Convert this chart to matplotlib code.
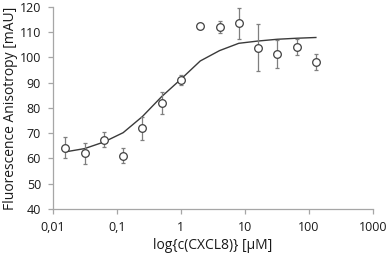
import matplotlib.pyplot as plt
from matplotlib.ticker import FixedLocator, NullLocator

conc = [0.015625, 0.03125, 0.0625, 0.125, 0.25, 0.5, 1, 2, 4, 8, 16, 32, 64, 128]
anisotropy = [64.3, 62.0, 67.5, 61.0, 72.0, 82.0, 91.0, 112.6, 112.0, 113.5, 103.9, 101.3, 104.0, 98.3]
errors = [4.0, 4.2, 2.8, 3.0, 4.5, 4.5, 2.0, 0.0, 2.5, 6.0, 9.3, 5.6, 3.2, 3.2]
fit = [62.6, 63.9, 66.5, 70.2, 76.6, 84.5, 91.4, 98.6, 102.7, 105.6, 106.5, 107.2, 107.6, 107.9]

x_ticks = [0.01, 0.1, 1, 10, 100, 1000]
x_labels = ["0,01", "0,1", "1", "10", "100", "1000"]
y_ticks = list(range(40, 121, 10))

plt.rcParams["font.family"] = ["Open Sans", "DejaVu Sans"]
grey = "#a6a6a6"
text_col = "#1a1a1a"

fig = plt.figure(figsize=(3.89, 2.57), dpi=100)
ax = fig.add_axes([0.136, 0.187, 0.823, 0.786])

ax.plot(conc, fit, color="#3a3a3a", linewidth=1.0, zorder=2)
ax.errorbar(conc, anisotropy, yerr=errors, fmt="none", ecolor="#7f7f7f",
            elinewidth=0.9, capsize=1.5, capthick=0.9, zorder=3)
ax.plot(conc, anisotropy, "o", markersize=5.5, markerfacecolor="white",
        markeredgecolor="#404040", markeredgewidth=0.9, linestyle="none", zorder=4)

ax.set_xscale("log")
ax.set_xlim(0.01, 1000)
ax.set_ylim(40, 120)
ax.xaxis.set_major_locator(FixedLocator(x_ticks))
ax.xaxis.set_minor_locator(NullLocator())
ax.set_xticks(x_ticks)
ax.set_xticklabels(x_labels)
ax.set_yticks(y_ticks)

for side in ("top", "right"):
    ax.spines[side].set_visible(False)
for side in ("left", "bottom"):
    ax.spines[side].set_color(grey)
    ax.spines[side].set_linewidth(0.9)
ax.tick_params(axis="both", colors=grey, labelcolor=text_col, labelsize=9,
               length=3.5, width=0.9, direction="out")
ax.tick_params(axis="y", pad=5)
ax.tick_params(axis="x", pad=5)

ax.set_xlabel("log{c(CXCL8)} [µM]", fontsize=10, color=text_col, labelpad=3)
ax.set_ylabel("Fluorescence Anisotropy [mAU]", fontsize=10, color=text_col)
ax.yaxis.set_label_coords(-0.11, 0.5)

fig.savefig("out.png", dpi=100)
